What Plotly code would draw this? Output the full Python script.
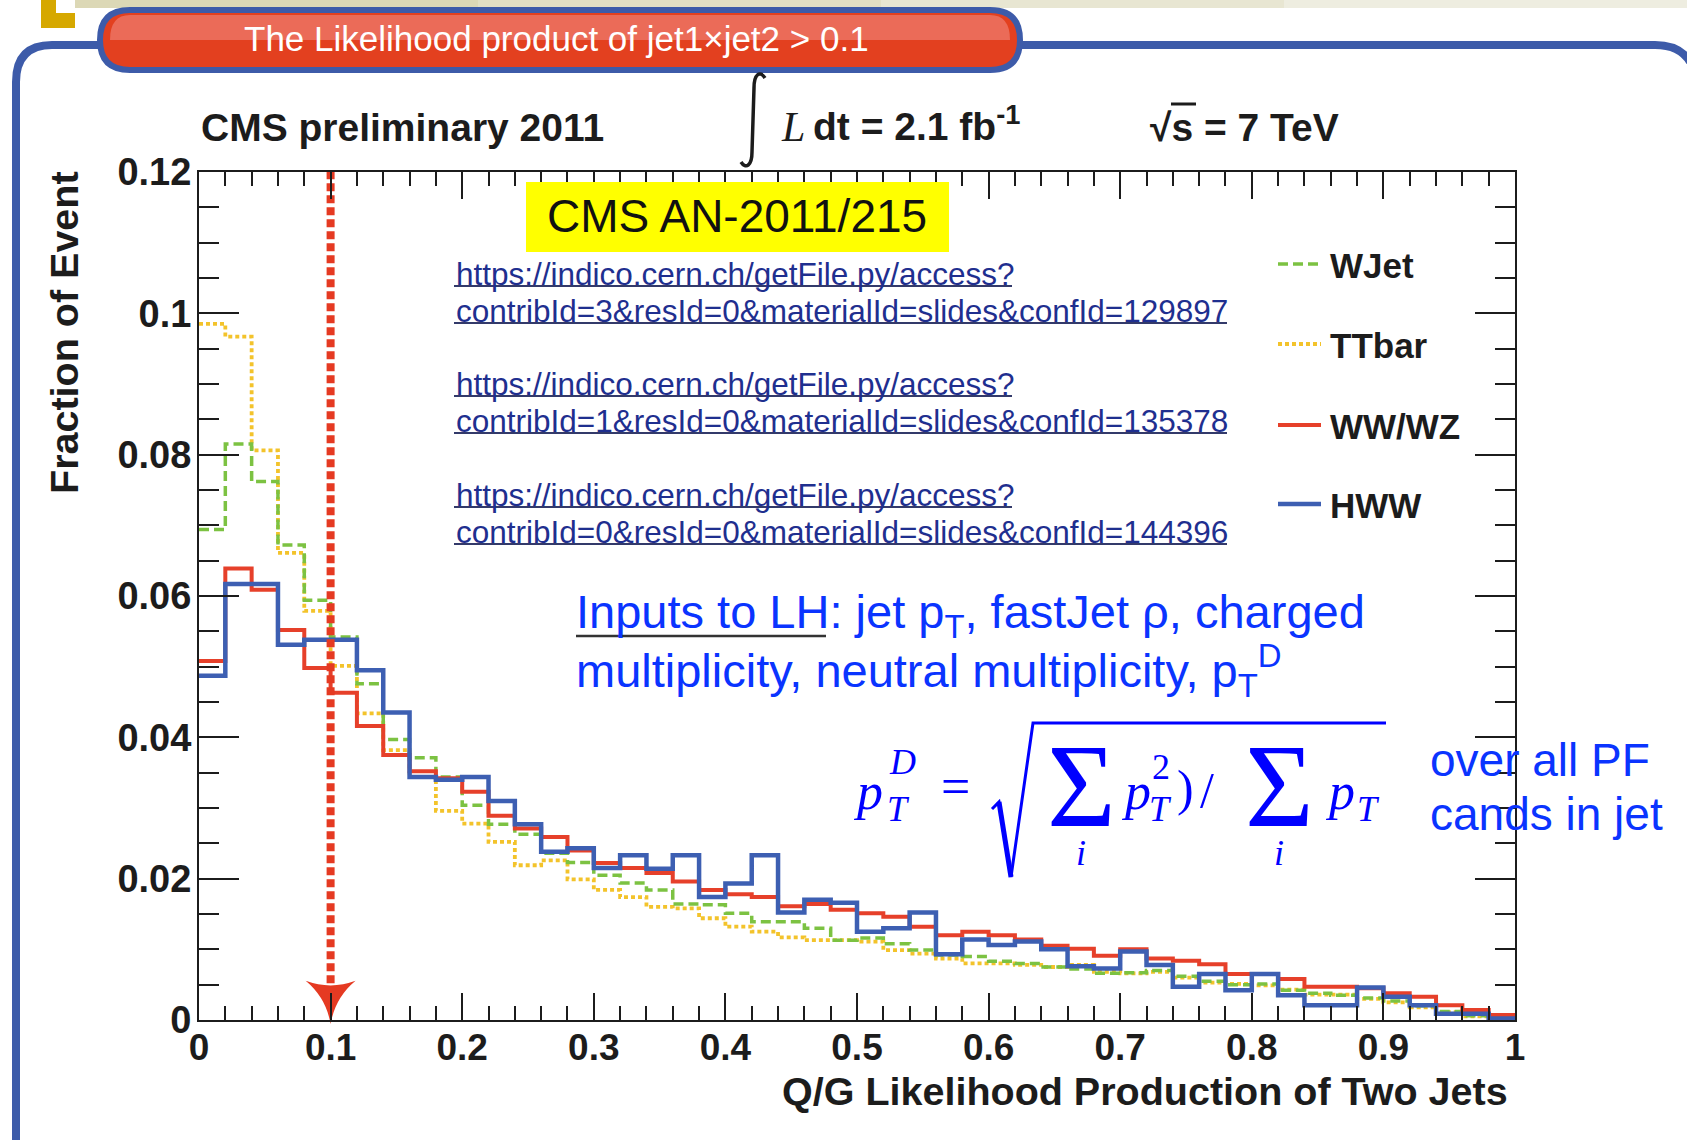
import numpy as np
import plotly.graph_objects as go

# ---- histogram contents: fraction of events per bin, 50 bins on [0, 1] ----
n_bins = 50
bin_edges = np.linspace(0.0, 1.0, n_bins + 1)

wjet = [0.0694, 0.0815, 0.0762, 0.0672, 0.0594, 0.0542, 0.0476, 0.0397, 0.0371, 0.0344,
        0.0304, 0.0277, 0.0263, 0.0236, 0.0223, 0.0205, 0.0194, 0.0184, 0.0164, 0.0163,
        0.0151, 0.0139, 0.0139, 0.0130, 0.0113, 0.0116, 0.0108, 0.0099, 0.0092, 0.0090,
        0.0083, 0.0080, 0.0075, 0.0072, 0.0066, 0.0067, 0.0070, 0.0062, 0.0055, 0.0050,
        0.0051, 0.0042, 0.0038, 0.0035, 0.0031, 0.0027, 0.0020, 0.0012, 0.0006, 0.0003]

ttbar = [0.0985, 0.0967, 0.0806, 0.0661, 0.0579, 0.0501, 0.0434, 0.0382, 0.0344, 0.0296,
         0.0278, 0.0252, 0.0219, 0.0226, 0.0199, 0.0184, 0.0174, 0.0160, 0.0158, 0.0144,
         0.0132, 0.0125, 0.0117, 0.0113, 0.0113, 0.0111, 0.0099, 0.0094, 0.0087, 0.0080,
         0.0080, 0.0078, 0.0075, 0.0078, 0.0068, 0.0066, 0.0068, 0.0060, 0.0053, 0.0051,
         0.0049, 0.0043, 0.0036, 0.0036, 0.0030, 0.0025, 0.0018, 0.0011, 0.0005, 0.0003]

wwwz = [0.0508, 0.0639, 0.0609, 0.0552, 0.0498, 0.0463, 0.0416, 0.0375, 0.0352, 0.0342,
        0.0323, 0.0289, 0.0271, 0.0259, 0.0240, 0.0222, 0.0215, 0.0208, 0.0196, 0.0184,
        0.0178, 0.0174, 0.0161, 0.0164, 0.0156, 0.0151, 0.0146, 0.0132, 0.0120, 0.0125,
        0.0120, 0.0114, 0.0105, 0.0101, 0.0091, 0.0100, 0.0087, 0.0084, 0.0079, 0.0065,
        0.0065, 0.0058, 0.0047, 0.0047, 0.0045, 0.0038, 0.0033, 0.0021, 0.0014, 0.0007]

hww = [0.0487, 0.0617, 0.0617, 0.0531, 0.0538, 0.0538, 0.0495, 0.0435, 0.0344, 0.0340,
       0.0344, 0.0310, 0.0277, 0.0238, 0.0243, 0.0215, 0.0233, 0.0214, 0.0233, 0.0174,
       0.0193, 0.0233, 0.0152, 0.0170, 0.0166, 0.0125, 0.0130, 0.0152, 0.0093, 0.0114,
       0.0106, 0.0111, 0.0100, 0.0076, 0.0073, 0.0097, 0.0078, 0.0047, 0.0065, 0.0042,
       0.0065, 0.0035, 0.0021, 0.0021, 0.0046, 0.0033, 0.0021, 0.0009, 0.0009, 0.0002]

cut_value = 0.1
cut_marker_y = 0.0035

series_names = ["WJet", "TTbar", "WW/WZ", "HWW"]
series_values = [wjet, ttbar, wwwz, hww]

# ---- styles ----
SANS = "Liberation Sans, Arial, Helvetica, sans-serif"
SERIF = "Liberation Serif, Times New Roman, serif"
INK = "#1c1c1c"
GREEN, YELLOW, RED, BLUE = "#7cc242", "#f3c32b", "#e6402a", "#3d5fb2"
FRAME_BLUE = "#3d5ba9"
TEXT_BLUE = "#0a34ff"
MATH_BLUE = "#0000ff"
LINK_BLUE = "#1f2f8f"

styles = {
    "WJet": dict(color=GREEN, width=3.5, dash="10px,5px"),
    "TTbar": dict(color=YELLOW, width=3.8, dash="4px,3px"),
    "WW/WZ": dict(color=RED, width=4, dash="solid"),
    "HWW": dict(color=BLUE, width=4.5, dash="solid"),
}
draw_order = ["TTbar", "WJet", "WW/WZ", "HWW"]

# plot area in page pixels
W, H = 1687, 1140
PL, PR, PT, PB = 199, 1515, 172, 1020


def px(x):
    return (x - PL) / (PR - PL)


def py(y):
    return (PB - y) / (PB - PT)


def path(points, close=False):
    s = "M " + " L ".join(f"{px(x):.5f},{py(y):.5f}" for x, y in points)
    return s + (" Z" if close else "")


fig = go.Figure()

values_by_name = dict(zip(series_names, series_values))
for name in draw_order:
    vals = values_by_name[name]
    fig.add_trace(go.Scatter(
        x=bin_edges, y=list(vals) + [vals[-1]], mode="lines", line_shape="hv",
        line=styles[name], name=name, showlegend=False, hoverinfo="skip"))

# selection cut at likelihood product = 0.1
fig.add_trace(go.Scatter(
    x=[cut_value, cut_value], y=[cut_marker_y, 0.12], mode="lines",
    line=dict(color="#e53a22", width=8, dash="8px,4px"), showlegend=False, hoverinfo="skip"))
fig.add_trace(go.Scatter(
    x=[cut_value], y=[cut_marker_y], mode="markers",
    marker=dict(symbol="star-triangle-down", size=36, color="#e53a22"),
    showlegend=False, hoverinfo="skip", cliponaxis=False))

shapes = []
annotations = []


def ann(text, x, y, size, color=INK, weight="normal", style="normal", family=SANS,
        xanchor="center", yanchor="middle", angle=0):
    annotations.append(dict(
        text=text, x=px(x), y=py(y), xref="paper", yref="paper", showarrow=False,
        xanchor=xanchor, yanchor=yanchor, textangle=angle,
        font=dict(family=family, size=size, color=color, weight=weight, style=style)))


def line(x0, y0, x1, y1, color, width, dash="solid"):
    shapes.append(dict(type="line", xref="paper", yref="paper", x0=px(x0), y0=py(y0),
                       x1=px(x1), y1=py(y1), line=dict(color=color, width=width, dash=dash)))


def poly(points, fill, color=None, width=0, close=True, opacity=1.0):
    shapes.append(dict(type="path", xref="paper", yref="paper", path=path(points, close),
                       fillcolor=fill, opacity=opacity,
                       line=dict(color=color or fill, width=width)))


# ---- slide decoration ----
strip_cols = ["#dcd8b6", "#e2dfc4", "#e8e6d2", "#eeede0"]
for i, c in enumerate(strip_cols):
    poly([(75 + i * 403, 0), (75 + (i + 1) * 403, 0), (75 + (i + 1) * 403, 8), (75 + i * 403, 8)], c)
poly([(41, 0), (56, 0), (56, 13), (75, 13), (75, 28), (41, 28)], "#d6a800")

shapes.append(dict(type="path", xref="paper", yref="paper",
                   path=f"M {px(16)},{py(1140)} L {px(16)},{py(82)} Q {px(16)},{py(45)} {px(52)},{py(45)} L {px(110)},{py(45)}",
                   line=dict(color=FRAME_BLUE, width=8)))
shapes.append(dict(type="path", xref="paper", yref="paper",
                   path=f"M {px(1010)},{py(45)} L {px(1655)},{py(45)} Q {px(1680)},{py(45)} {px(1690)},{py(62)}",
                   line=dict(color=FRAME_BLUE, width=8)))

# title banner
bx0, bx1, by0, by1, r = 100, 1020, 10, 70, 30
banner = (f"M {px(bx0 + r)},{py(by0)} L {px(bx1 - r)},{py(by0)} "
          f"Q {px(bx1)},{py(by0)} {px(bx1)},{py(by0 + r)} Q {px(bx1)},{py(by1)} {px(bx1 - r)},{py(by1)} "
          f"L {px(bx0 + r)},{py(by1)} Q {px(bx0)},{py(by1)} {px(bx0)},{py(by0 + r)} "
          f"Q {px(bx0)},{py(by0)} {px(bx0 + r)},{py(by0)} Z")
shapes.append(dict(type="path", xref="paper", yref="paper", path=banner,
                   fillcolor="#e3401f", line=dict(color=FRAME_BLUE, width=6)))
hx0, hx1, hy0, hy1, hr = 110, 1010, 15, 40, 20
highlight = (f"M {px(hx0 + hr)},{py(hy0)} L {px(hx1 - hr)},{py(hy0)} "
             f"Q {px(hx1)},{py(hy0)} {px(hx1)},{py(hy1)} L {px(hx0)},{py(hy1)} "
             f"Q {px(hx0)},{py(hy0)} {px(hx0 + hr)},{py(hy0)} Z")
shapes.append(dict(type="path", xref="paper", yref="paper", path=highlight,
                   fillcolor="#ee7a6c", opacity=0.75, line=dict(width=0)))
ann("The Likelihood product of jet1\u00d7jet2 &gt; 0.1", 556, 38, 35, color="white")

# ---- CMS header ----
ann("CMS preliminary 2011", 199, 127, 39, weight="bold", xanchor="left")
shapes.append(dict(type="path", xref="paper", yref="paper",
                   path=(f"M {px(741)},{py(162)} C {px(746)},{py(170)} {px(752)},{py(165)} {px(752)},{py(152)} "
                         f"L {px(754)},{py(88)} C {px(754)},{py(74)} {px(760)},{py(70)} {px(765)},{py(78)}"),
                   line=dict(color=INK, width=3.5)))
ann("L", 793, 127, 42, style="italic", family=SERIF)
ann("dt = 2.1 fb<sup>-1</sup>", 811, 123, 39, weight="bold", xanchor="left")
ann("\u221as = 7 TeV", 1148, 127, 39, weight="bold", xanchor="left")
line(1171, 104, 1196, 104, INK, 3)

# ---- note box and reference links ----
poly([(526, 182), (949, 182), (949, 252), (526, 252)], "#ffff00")
ann("CMS AN-2011/215", 737, 216, 46, color="#111111")

links = [("https://indico.cern.ch/getFile.py/access?",
          "contribId=3&amp;resId=0&amp;materialId=slides&amp;confId=129897"),
         ("https://indico.cern.ch/getFile.py/access?",
          "contribId=1&amp;resId=0&amp;materialId=slides&amp;confId=135378"),
         ("https://indico.cern.ch/getFile.py/access?",
          "contribId=0&amp;resId=0&amp;materialId=slides&amp;confId=144396")]
link_rows = [274, 384, 495]
for (l1, l2), yrow in zip(links, link_rows):
    ann(l1, 454, yrow, 31.5, color=LINK_BLUE, xanchor="left")
    ann(l2, 454, yrow + 37, 31.5, color=LINK_BLUE, xanchor="left")
    line(454, yrow + 12, 1012, yrow + 12, "#333a6a", 2)
    line(454, yrow + 49, 1227, yrow + 49, "#333a6a", 2)

# ---- description of the likelihood inputs ----
ann("Inputs to LH: jet p<sub>T</sub>, fastJet \u03c1, charged", 574, 615, 47, color=TEXT_BLUE, xanchor="left")
ann("multiplicity, neutral multiplicity, p<sub>T</sub><sup>D</sup>", 574, 670, 47, color=TEXT_BLUE, xanchor="left")
line(576, 636, 826, 636, "#333333", 2.5)
ann("over all PF", 1428, 760, 46, color=TEXT_BLUE, xanchor="left")
ann("cands in jet", 1428, 814, 46, color=TEXT_BLUE, xanchor="left")

# p_T^D definition
ann("p", 868, 791, 52, color=MATH_BLUE, style="italic", family=SERIF)
ann("D", 902, 762, 36, color=MATH_BLUE, style="italic", family=SERIF)
ann("T", 898, 809, 36, color=MATH_BLUE, style="italic", family=SERIF)
ann("=", 955, 786, 52, color=MATH_BLUE, family=SERIF)
shapes.append(dict(type="path", xref="paper", yref="paper",
                   path=path([(992, 809), (999, 802), (1011, 877), (1033, 723), (1386, 723)]),
                   line=dict(color=MATH_BLUE, width=3)))
line(999, 802, 1011, 877, MATH_BLUE, 5)
for sx in (1081, 1279):
    ann("\u03a3", sx, 786, 118, color=MATH_BLUE, family=SERIF)
    ann("i", sx, 853, 36, color=MATH_BLUE, style="italic", family=SERIF)
ann("p", 1136, 791, 52, color=MATH_BLUE, style="italic", family=SERIF)
ann("2", 1161, 767, 36, color=MATH_BLUE, family=SERIF)
ann("T", 1160, 809, 36, color=MATH_BLUE, style="italic", family=SERIF)
ann(")", 1185, 788, 50, color=MATH_BLUE, family=SERIF)
ann("/", 1207, 790, 50, color=MATH_BLUE, family=SERIF)
ann("p", 1340, 791, 52, color=MATH_BLUE, style="italic", family=SERIF)
ann("T", 1368, 809, 36, color=MATH_BLUE, style="italic", family=SERIF)

# ---- legend ----
legend_rows = [264, 344, 425, 504]
for name, yrow in zip(series_names, legend_rows):
    st = styles[name]
    line(1278, yrow, 1321, yrow, st["color"], st["width"], st["dash"])
    ann(name, 1328, yrow + 1, 35, weight="bold", xanchor="left")

# ---- axis titles ----
ann("Fraction of Event", 64, 333, 39.5, weight="bold", angle=-90)
ann("Q/G Likelihood Production of Two Jets", 1510, 1091, 39.5, weight="bold", xanchor="right")

axis_common = dict(showline=True, linecolor=INK, linewidth=2, mirror="allticks",
                   ticks="inside", tickcolor=INK, tickwidth=2, showgrid=False, zeroline=False)

fig.update_layout(
    width=W, height=H,
    margin=dict(l=PL, r=W - PR, t=PT, b=H - PB, pad=0),
    paper_bgcolor="white", plot_bgcolor="white",
    xaxis=dict(range=[0, 1], dtick=0.1, ticklen=27, ticklabelstandoff=-6,
               tickfont=dict(family=SANS, size=37, color=INK, weight="bold"),
               minor=dict(dtick=0.02, ticklen=14, ticks="inside", tickcolor=INK, tickwidth=2),
               **axis_common),
    yaxis=dict(range=[0, 0.12], dtick=0.02, ticklen=40, ticklabelstandoff=-2,
               tickfont=dict(family=SANS, size=38, color=INK, weight="bold"),
               minor=dict(dtick=0.005, ticklen=20, ticks="inside", tickcolor=INK, tickwidth=2),
               **axis_common),
    shapes=shapes, annotations=annotations,
)

fig.write_html("out.html")
